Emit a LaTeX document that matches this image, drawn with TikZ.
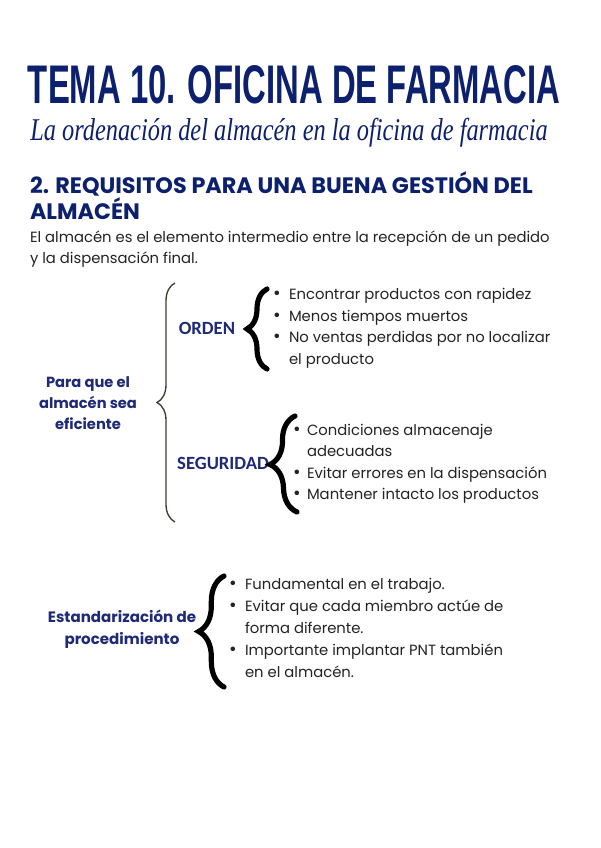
\documentclass[tikz,border=0pt]{standalone}
\usepackage{fontspec}
\setmainfont{Poppins}
\newfontfamily\titlefont{Liberation Sans}
\newfontfamily\labfont{Carlito}
\newfontfamily\scriptf{Liberation Serif}
\usetikzlibrary{decorations.pathreplacing}
\definecolor{navy}{RGB}{12,32,110}
\definecolor{lab}{RGB}{30,42,120}
\definecolor{txt}{RGB}{35,35,35}
\definecolor{gbrace}{RGB}{60,60,50}
\newcommand{\bigbul}{\raisebox{-0.12ex}{\scalebox{1.25}{\textbullet}}}
\begin{document}
\begin{tikzpicture}[x=0.75pt,y=-0.75pt,
  every node/.style={inner sep=0pt, outer sep=0pt},
  bodytext/.style={anchor=base west, text=txt, font=\fontsize{11.1}{15}\selectfont},
  bul/.style={anchor=base west, text=txt, font=\fontsize{11.1}{15}\selectfont},
  labnode/.style={text=lab, font=\labfont\bfseries\fontsize{14}{16}\selectfont},
  grouplab/.style={text=lab, align=center, font=\bfseries\fontsize{11}{15.8}\selectfont},
  thickbrace/.style={decorate, line width=3.9pt, line cap=round, black},
  thinbrace/.style={decorate, line width=1pt, gbrace}
]
\fill[white] (0,0) rectangle (600,848);
\useasboundingbox (0,0) rectangle (600,848);

% title
\node (title) at (294,85) {\color{navy}\titlefont\bfseries\resizebox{399pt}{28.5pt}{TEMA 10. OFICINA DE FARMACIA}};
\node (sub) at (289,133) {\color{navy}\scalebox{1}[1.3]{\resizebox{388pt}{!}{\scriptf\itshape La ordenación del almacén en la oficina de farmacia}}};
\node[anchor=north west] (head) at (30,172) {\color{navy}\resizebox{377pt}{!}{\bfseries\fontsize{15}{20}\selectfont\begin{tabular}{@{}l@{}}2. REQUISITOS PARA UNA BUENA GESTIÓN DEL\\[-3.5pt] ALMACÉN\end{tabular}}};
\node[bodytext] (intro) at (30,243) {El almacén es el elemento intermedio entre la recepción de un pedido};
\node[bodytext] (intro2) at (30,263) {y la dispensación final.};

% main group
\node[grouplab] (para) at (88,403) {Para que el\\almacén sea\\eficiente};
\coordinate (gtop) at (175,283);
\coordinate (gbot) at (175,522);
\draw[thinbrace, decoration={brace, amplitude=13.5pt, aspect=0.5}] (gbot) -- (gtop);

% ORDEN
\node[labnode] (orden) at (207,328) {ORDEN};
\coordinate (otop) at (267,289);
\coordinate (obot) at (267,369);
\draw[thickbrace, decoration={brace, amplitude=15pt, aspect=0.5}] (obot) -- (otop);
\node[bul] (o1b) at (273,299) {\bigbul};
\node[bul] (o1) at (289,299) {Encontrar productos con rapidez};
\node[bul] (o2b) at (273,321) {\bigbul};
\node[bul] (o2) at (289,321) {Menos tiempos muertos};
\node[bul] (o3b) at (273,342) {\bigbul};
\node[bul] (o3) at (289,342) {No ventas perdidas por no localizar};
\node[bul] (o4) at (289,364) {el producto};

% SEGURIDAD
\node[labnode] (seg) at (223,463) {SEGURIDAD};
\coordinate (stop) at (295,416);
\coordinate (sbot) at (297,512);
\draw[thickbrace, decoration={brace, amplitude=19.5pt, aspect=0.5}] (sbot) -- (stop);
\node[bul] (s1b) at (293,435) {\bigbul};
\node[bul] (s1) at (307,435) {Condiciones almacenaje};
\node[bul] (s2) at (307,456) {adecuadas};
\node[bul] (s3b) at (293,478) {\bigbul};
\node[bul] (s3) at (307,478) {Evitar errores en la dispensación};
\node[bul] (s4b) at (293,499) {\bigbul};
\node[bul] (s4) at (307,499) {Mantener intacto los productos};

% Estandarizacion
\node[grouplab, font=\fontsize{11.3}{16.5}\selectfont\bfseries] (est) at (122,629) {Estandarización de\\procedimiento};
\coordinate (etop) at (224,576);
\coordinate (ebot) at (224,687);
\draw[thickbrace, decoration={brace, amplitude=19pt, aspect=0.5}] (ebot) -- (etop);
\node[bul] (e1b) at (229,589) {\bigbul};
\node[bul] (e1) at (245,589) {Fundamental en el trabajo.};
\node[bul] (e2b) at (229,611) {\bigbul};
\node[bul] (e2) at (245,611) {Evitar que cada miembro actúe de};
\node[bul] (e3) at (245,633) {forma diferente.};
\node[bul] (e4b) at (229,655) {\bigbul};
\node[bul] (e4) at (245,655) {Importante implantar PNT también};
\node[bul] (e5) at (245,677) {en el almacén.};
\end{tikzpicture}
\end{document}
